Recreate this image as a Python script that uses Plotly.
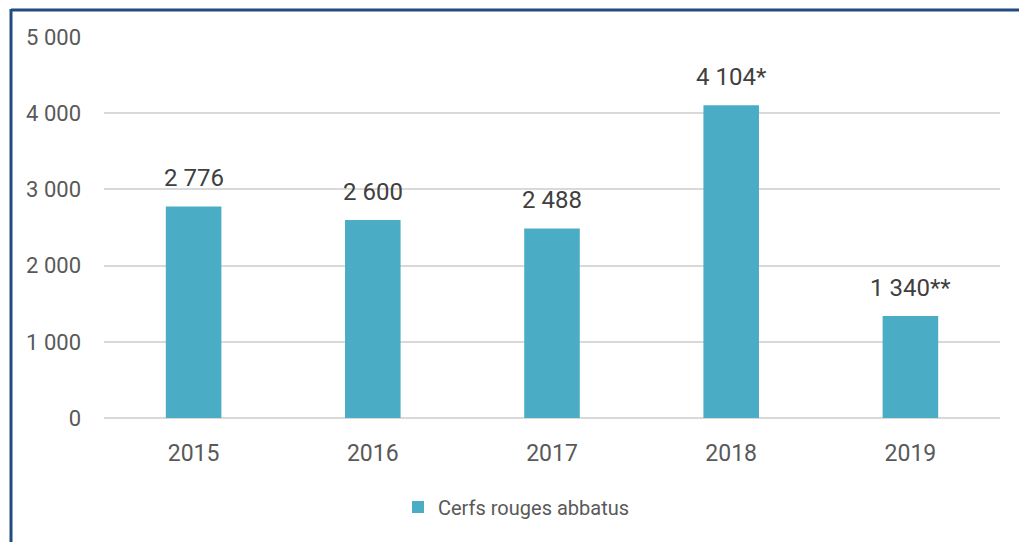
import plotly.graph_objects as go

years = ["2015", "2016", "2017", "2018", "2019"]
values = [2776, 2600, 2488, 4104, 1340]
label_suffix = ["", "", "", "*", "**"]
series_name = "Cerfs rouges abbatus"
y_ticks = [0, 1000, 2000, 3000, 4000, 5000]

BAR_COLOR = "#4BACC6"
TEXT_COLOR = "#595959"
LABEL_COLOR = "#404040"
GRID_COLOR = "#D9D9D9"
FRAME_COLOR = "#234B80"
FONT = "Roboto, sans-serif"

W, H = 1019, 542
ML, MR, MT, MB = 104, 19, 37, 124

labels = [f"{v:,}".replace(",", " ") + s for v, s in zip(values, label_suffix)]

fig = go.Figure()
fig.add_trace(go.Bar(
    x=years, y=values, name=series_name,
    marker=dict(color=BAR_COLOR, line=dict(width=0)),
    width=0.31,
    showlegend=True,
    hoverinfo="skip",
))

# data labels: positioned by category index on the category axis
for i, (v, lab) in enumerate(zip(values, labels)):
    fig.add_annotation(x=i, y=v, xref="x", yref="y", text=lab, showarrow=False,
                       xanchor="center", yanchor="bottom", yshift=12,
                       font=dict(size=24, color=LABEL_COLOR, family=FONT))

pw = W - ML - MR
ph = H - MT - MB
def px_x(p):
    return (p - ML) / pw
def px_y(p):
    return (H - MB - p) / ph

fig.update_layout(
    width=W, height=H,
    margin=dict(l=ML, r=MR, t=MT, b=MB, pad=0),
    paper_bgcolor="white", plot_bgcolor="white",
    font=dict(family=FONT, color=TEXT_COLOR, size=22),
    separators=", ",
    hovermode=False,
    xaxis=dict(type="category", categoryorder="array", categoryarray=years,
               range=[-0.5, len(years) - 0.5],
               showgrid=False, zeroline=False, showline=False,
               tickfont=dict(size=23, color=TEXT_COLOR), ticks="",
               ticklabelstandoff=19),
    yaxis=dict(range=[0, 5000], tickvals=y_ticks,
               ticktext=[f"{t:,}".replace(",", " ") for t in y_ticks],
               showgrid=True, gridcolor=GRID_COLOR, gridwidth=1.5,
               zeroline=True, zerolinecolor=GRID_COLOR, zerolinewidth=2,
               showline=False, ticks="", ticklabelstandoff=22,
               tickfont=dict(size=22, color=TEXT_COLOR)),
    legend=dict(orientation="h", x=px_x(398), xanchor="left",
                y=px_y(507), yanchor="middle",
                font=dict(size=20, color=TEXT_COLOR), bgcolor="rgba(0,0,0,0)"),
    shapes=[
        dict(type="line", xref="paper", yref="paper",
             x0=px_x(11), x1=px_x(W + 5), y0=px_y(10), y1=px_y(10),
             line=dict(color=FRAME_COLOR, width=3)),
        dict(type="line", xref="paper", yref="paper",
             x0=px_x(11), x1=px_x(11), y0=px_y(9), y1=px_y(H + 5),
             line=dict(color=FRAME_COLOR, width=3)),
    ],
)

fig.write_html("out.html", config={"displayModeBar": False},
               post_script="document.body.style.margin='0';document.body.style.overflow='hidden';")
